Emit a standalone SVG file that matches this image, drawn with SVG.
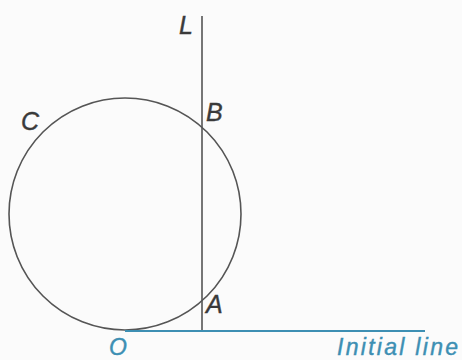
<svg xmlns="http://www.w3.org/2000/svg" width="462" height="360" viewBox="0 0 462 360">
<style>
.lbl{font-family:"Liberation Sans",Arial,sans-serif;font-style:italic;font-size:25px;fill:#3a3a3a;stroke:#3a3a3a;stroke-width:0.4}
.blue{fill:#3d8fb3;stroke:#3d8fb3;font-size:23px}
.ln{stroke:#555;stroke-width:1.6;fill:none}
</style>
<rect width="462" height="360" fill="#fbfbfb"/>
<g id="circle-C">
<circle class="ln" cx="125" cy="214" r="116"/>
<text class="lbl" x="21" y="130">C</text>
</g>
<g id="connectors">
<line id="line-L" class="ln" x1="202" y1="16" x2="202" y2="331"/>
<line id="initial-line" x1="125" y1="331" x2="425" y2="331" stroke="#3d8fb3" stroke-width="2.2"/>
</g>
<g id="label-L"><text class="lbl" x="179" y="34">L</text></g>
<g id="point-B"><text class="lbl" x="206" y="121">B</text></g>
<g id="point-A"><text class="lbl" x="206" y="313">A</text></g>
<g id="point-O"><text class="lbl blue" x="109" y="355">O</text></g>
<g id="label-initial"><text class="lbl blue" x="337" y="355" textLength="121" lengthAdjust="spacing">Initial line</text></g>
</svg>
